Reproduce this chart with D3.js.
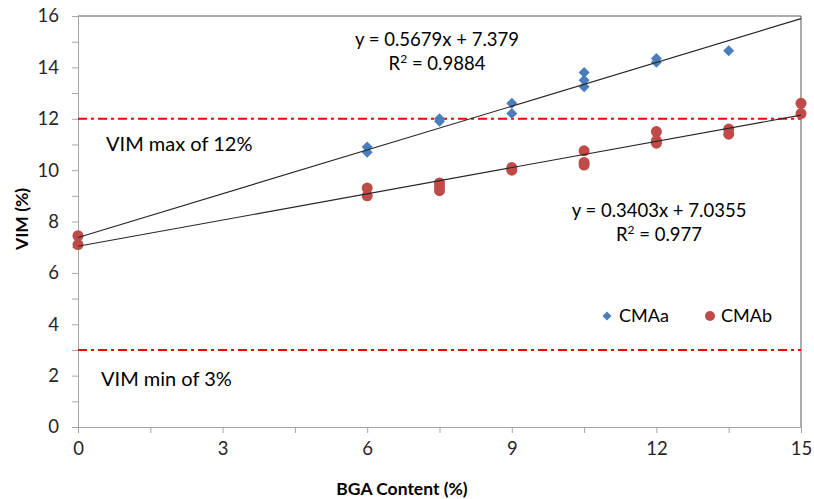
<!DOCTYPE html>
<html>
<head>
<meta charset="utf-8">
<script src="https://cdn.jsdelivr.net/npm/d3@7/dist/d3.min.js"></script>
<style>
  html, body { margin: 0; padding: 0; background: #fff; }
  svg { display: block; font-family: Lato, "Open Sans", sans-serif; }
</style>
</head>
<body>
<svg id="chart" width="814" height="499"></svg>
<script>
// BGA content (%) for each measured specimen
const cmaaX = [0, 6, 6, 7.5, 7.5, 9, 9, 10.5, 10.5, 10.5, 12, 12, 13.5];
const cmaaY = [7.4, 10.9, 10.7, 11.9, 12.0, 12.6, 12.2, 13.8, 13.5, 13.25, 14.35, 14.2, 14.65];
const cmabX = [0, 0, 6, 6, 7.5, 7.5, 7.5, 9, 9, 10.5, 10.5, 10.5, 12, 12, 12, 13.5, 13.5, 15, 15];
const cmabY = [7.45, 7.1, 9.3, 9.0, 9.5, 9.35, 9.2, 10.1, 10.0, 10.75, 10.3, 10.2, 11.5, 11.15, 11.05, 11.6, 11.4, 12.6, 12.2];

// Linear trendlines: [slope, intercept]
const fitA = [0.5679, 7.379];
const fitB = [0.3403, 7.0355];
const fitLabels = [
  ["y = 0.5679x + 7.379", "0.9884"],
  ["y = 0.3403x + 7.0355", "0.977"]
];

// VIM specification limits
const limits = [12, 3];
const limitLabels = ["VIM max of 12%", "VIM min of 3%"];

const xTicks = [0, 3, 6, 9, 12, 15];
const yTicks = [0, 2, 4, 6, 8, 10, 12, 14, 16];
const seriesNames = ["CMAa", "CMAb"];

const svg = d3.select("#chart");
const plotL = 78, plotR = 801, plotT = 16, plotB = 427;

const x = d3.scaleLinear().domain([0, 15]).range([plotL, plotR]);
const y = d3.scaleLinear().domain([0, 16]).range([plotB, plotT]);

const blue = "#4a7ebb", red = "#be4b48";

// square diamond marker of half-diagonal r
const diamond = r => `M0,${-r}L${r},0L0,${r}L${-r},0Z`;

// frame: top and right edges
svg.append("line").attr("x1", plotL).attr("x2", plotR).attr("y1", plotT).attr("y2", plotT)
  .attr("stroke", "#595959").attr("stroke-width", 1);
svg.append("line").attr("x1", plotR).attr("x2", plotR).attr("y1", plotT).attr("y2", plotB)
  .attr("stroke", "#595959").attr("stroke-width", 1);

// y axis with minor ticks
const yAxis = d3.axisLeft(y).tickValues(d3.range(0, 17, 1)).tickSize(6)
  .tickFormat(d => yTicks.includes(d) ? d : "");
const gy = svg.append("g").attr("transform", `translate(${plotL},0)`).call(yAxis);
gy.select(".domain").attr("stroke", "#a6a6a6");
gy.selectAll(".tick line").attr("stroke", "#a6a6a6");
gy.selectAll(".tick text").attr("font-size", 18.5).attr("fill", "#262626").attr("x", -19)
  .attr("font-family", "Lato, sans-serif");

// x axis with minor ticks
const xAxis = d3.axisBottom(x).tickValues(d3.range(0, 15.01, 1.5)).tickSize(6)
  .tickFormat(d => xTicks.includes(d) ? d : "");
const gx = svg.append("g").attr("transform", `translate(0,${plotB})`).call(xAxis);
gx.select(".domain").attr("stroke", "#a6a6a6");
gx.selectAll(".tick line").attr("stroke", "#a6a6a6");
gx.selectAll(".tick text").attr("font-size", 18.5).attr("fill", "#262626").attr("y", 15)
  .attr("font-family", "Lato, sans-serif");

// axis titles
svg.append("text").attr("x", 402).attr("y", 495).attr("text-anchor", "middle")
  .attr("font-weight", "bold").attr("font-size", 17.5).attr("fill", "#000")
  .text("BGA Content (%)");
svg.append("text").attr("transform", `translate(28,${y(8.1)}) rotate(-90)`)
  .attr("text-anchor", "middle").attr("font-weight", "bold").attr("font-size", 17.5)
  .attr("fill", "#000").text("VIM (%)");

// limit lines
svg.selectAll(".limit").data(limits).join("line").attr("class", "limit")
  .attr("x1", plotL).attr("x2", plotR).attr("y1", d => y(d)).attr("y2", d => y(d))
  .attr("stroke", "#ff0000").attr("stroke-width", 2).attr("stroke-dasharray", "9,4,3,4");
svg.selectAll(".limitLabel").data(limits).join("text").attr("class", "limitLabel")
  .attr("x", (d, i) => i === 0 ? 106 : 101)
  .attr("y", (d, i) => y(d) + (i === 0 ? 32 : 36))
  .attr("font-size", 20).attr("fill", "#000")
  .text((d, i) => limitLabels[i]);

// CMAa markers (diamonds)
svg.selectAll(".ptA").data(cmaaX.map((d, i) => [d, cmaaY[i]])).join("path").attr("class", "ptA")
  .attr("d", diamond(5.5))
  .attr("transform", d => `translate(${x(d[0])},${y(d[1])})`)
  .attr("fill", blue);

// CMAb markers (circles)
svg.selectAll(".ptB").data(cmabX.map((d, i) => [d, cmabY[i]])).join("circle").attr("class", "ptB")
  .attr("cx", d => x(d[0])).attr("cy", d => y(d[1])).attr("r", 5.5)
  .attr("fill", red);

// trendlines
[fitA, fitB].forEach(f => {
  svg.append("line")
    .attr("x1", x(0)).attr("y1", y(f[1]))
    .attr("x2", x(15)).attr("y2", y(f[1] + f[0] * 15))
    .attr("stroke", "#262626").attr("stroke-width", 1.1);
});

// trendline equations
const eqPos = [[437, 46], [659, 217]];
fitLabels.forEach((lab, i) => {
  const t = svg.append("text").attr("text-anchor", "middle").attr("font-size", 18.5).attr("fill", "#000");
  t.append("tspan").attr("x", eqPos[i][0]).attr("y", eqPos[i][1]).text(lab[0]);
  const r = t.append("tspan").attr("x", eqPos[i][0]).attr("dy", 24);
  r.text("R");
  r.append("tspan").attr("font-size", 12).attr("dy", -7).text("2");
  r.append("tspan").attr("dy", 7).text(" = " + lab[1]);
});

// legend
const lg = svg.append("g");
lg.append("path").attr("d", diamond(4.5))
  .attr("transform", "translate(607,316)").attr("fill", blue);
lg.append("text").attr("x", 619).attr("y", 322).attr("font-size", 18).text(seriesNames[0]);
lg.append("circle").attr("cx", 710).attr("cy", 316).attr("r", 5).attr("fill", red);
lg.append("text").attr("x", 721).attr("y", 322).attr("font-size", 18).text(seriesNames[1]);
</script>
</body>
</html>
